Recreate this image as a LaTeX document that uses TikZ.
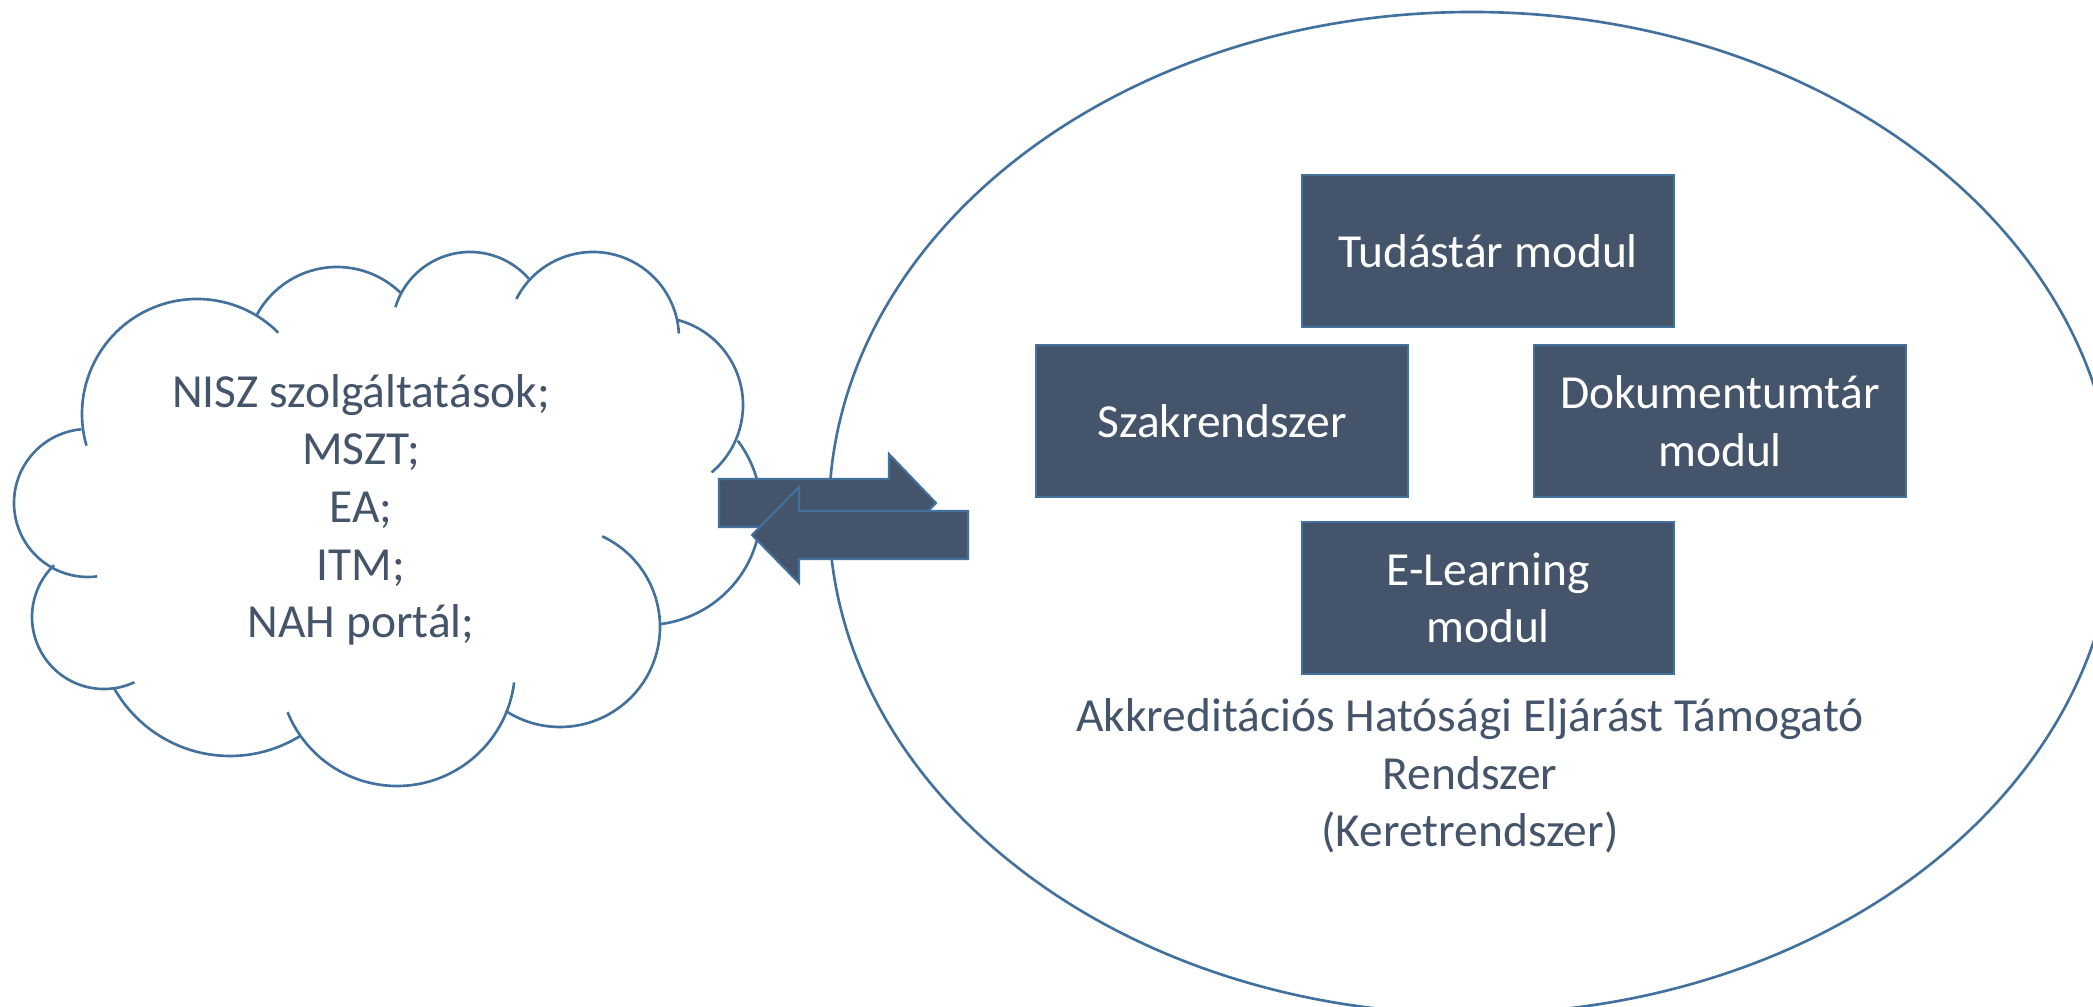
\documentclass[tikz,border=0pt]{standalone}
\usepackage{fontspec}
\setmainfont{Carlito}
\usetikzlibrary{positioning}
\definecolor{slate}{HTML}{44546A}
\definecolor{edgeblue}{HTML}{41719C}

\begin{document}
\begin{tikzpicture}[x=0.01cm, y=0.01cm, yscale=-1,
  txt/.style={font=\fontsize{13.5pt}{16.4pt}\selectfont, align=center, inner sep=0pt},
  modbox/.style={txt, rectangle, fill=slate, draw=edgeblue, line width=0.6pt, text=white, minimum width=3.71cm, minimum height=1.52cm},
  outline/.style={draw=edgeblue, line width=0.75pt},
  blockarrow/.style={fill=slate, draw=edgeblue, line width=0.6pt, line join=miter}]
  \useasboundingbox (0,0) rectangle (2093,1007);
  % frame of the whole system
  \draw[outline] (1472,513) ellipse [x radius=643, y radius=501];
  % cloud of outside services, one arc per puff
  \foreach \cx/\cy/\r/\a/\b in {197/414/115/164/315, 337/358/91/208/314, 470/330/78/197/319,
      593/338/86/207/357, 655/405/88/284/410, 646/510/115/323/443, 560/627/100/295/483,
      397/668/118/7/158, 230/623/133/58/151, 104/617/72/65/226, 88/503/74/265/83}
    \draw[outline] ([shift={(\cx,\cy)}]\a:\r) arc[start angle=\a, end angle=\b, radius=\r];
  \node[txt, text=slate] (services) at (361,510) {NISZ szolgáltatások;\\MSZT;\\EA;\\ITM;\\NAH portál;};
  % data exchange
  \draw[blockarrow] (719,479) -- (889,479) -- (889,454) -- (936,503) -- (889,552) -- (889,527) -- (719,527) -- cycle;
  \draw[blockarrow] (968,511) -- (799,511) -- (799,487) -- (752,535) -- (799,583) -- (799,559) -- (968,559) -- cycle;
  % modules
  \node[modbox] (tudastar) at (1488,251) {Tudástár modul};
  \node[modbox] (szak) at (1222,421) {Szakrendszer};
  \node[modbox] (doku) at (1720,421) {Dokumentumtár\\modul};
  \node[modbox] (elearn) at (1488,598) {E-Learning\\modul};
  \node[txt, text=slate] (keret) at (1470,776) {Akkreditációs Hatósági Eljárást Támogató\\Rendszer\\(Keretrendszer)};
\end{tikzpicture}
\end{document}
